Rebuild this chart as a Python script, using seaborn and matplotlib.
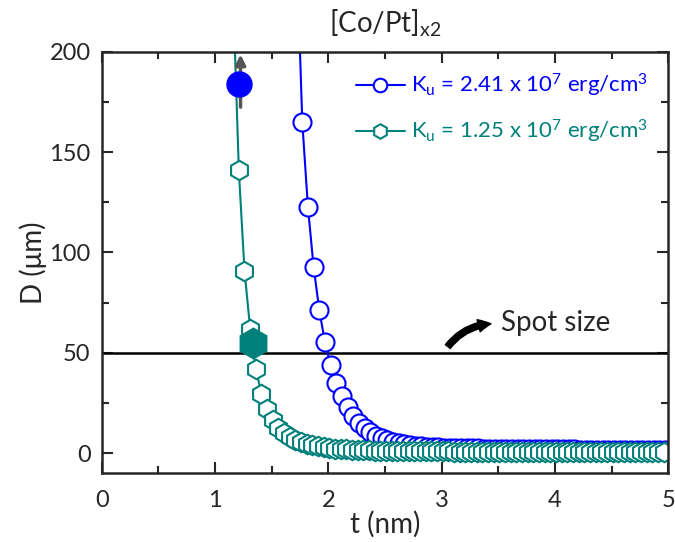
import numpy as np
import pandas as pd
import matplotlib
matplotlib.use('Agg')
import matplotlib.pyplot as plt
import seaborn as sns

# thickness grid (nm) and domain size D (um) for each anisotropy value
t_high = [1.72, 1.77, 1.82, 1.87, 1.92, 1.97, 2.02, 2.07, 2.12, 2.17, 2.22, 2.27, 2.32,
          2.37, 2.42, 2.47, 2.52, 2.57, 2.62, 2.67, 2.72, 2.77, 2.82, 2.87, 2.92, 2.97,
          3.02, 3.07, 3.12, 3.17, 3.22, 3.27, 3.32, 3.37, 3.42, 3.47, 3.52, 3.57, 3.62,
          3.67, 3.72, 3.77, 3.82, 3.87, 3.92, 3.97, 4.02, 4.07, 4.12, 4.17, 4.22, 4.27,
          4.32, 4.37, 4.42, 4.47, 4.52, 4.57, 4.62, 4.67, 4.72, 4.77, 4.82, 4.87, 4.92, 4.97]
D_high = [252, 165, 122.6, 92.7, 71.4, 55.3, 43.7, 34.9, 28.3, 22.9, 18.5, 15.2, 12.5,
          10.4, 8.8, 7.5, 6.5, 5.7, 5.0, 4.5, 4.1, 3.8, 3.5, 3.3, 3.1, 2.9,
          2.8, 2.7, 2.6, 2.5, 2.5, 2.4, 2.4, 2.3, 2.3, 2.2, 2.2, 2.2, 2.1,
          2.1, 2.1, 2.0, 2.0, 2.0, 2.0, 1.9, 1.9, 1.9, 1.9, 1.9, 1.8, 1.8,
          1.8, 1.8, 1.8, 1.8, 1.7, 1.7, 1.7, 1.7, 1.7, 1.7, 1.7, 1.6, 1.6, 1.6]

t_low = [1.16, 1.21, 1.26, 1.31, 1.36, 1.41, 1.46, 1.51, 1.56, 1.61, 1.66, 1.71, 1.76,
         1.81, 1.86, 1.91, 1.96, 2.01, 2.06, 2.11, 2.16, 2.21, 2.26, 2.31, 2.36, 2.41,
         2.46, 2.51, 2.56, 2.61, 2.66, 2.71, 2.76, 2.81, 2.86, 2.91, 2.96, 3.01, 3.06,
         3.11, 3.16, 3.21, 3.26, 3.31, 3.36, 3.41, 3.46, 3.51, 3.56, 3.61, 3.66, 3.71,
         3.76, 3.81, 3.86, 3.91, 3.96, 4.01, 4.06, 4.11, 4.16, 4.21, 4.26, 4.31, 4.36,
         4.41, 4.46, 4.51, 4.56, 4.61, 4.66, 4.71, 4.76, 4.81, 4.86, 4.91, 4.96]
D_low = [228, 141, 91, 62, 42, 29.6, 21.8, 16.5, 12.8, 10.2, 8.2, 6.8, 5.6,
         4.7, 4.0, 3.4, 3.0, 2.6, 2.3, 2.1, 1.9, 1.7, 1.6, 1.5, 1.4, 1.3,
         1.3, 1.2, 1.2, 1.1, 1.1, 1.0, 1.0, 1.0, 0.9, 0.9, 0.9, 0.9, 0.9,
         0.8, 0.8, 0.8, 0.8, 0.8, 0.8, 0.8, 0.8, 0.7, 0.7, 0.7, 0.7, 0.7,
         0.7, 0.7, 0.7, 0.7, 0.7, 0.7, 0.7, 0.6, 0.6, 0.6, 0.6, 0.6, 0.6,
         0.6, 0.6, 0.6, 0.6, 0.6, 0.6, 0.6, 0.6, 0.6, 0.6, 0.6, 0.6]

labels = ['$\\mathregular{K_u}$ = 2.41 x 10$^7$ erg/cm$^3$',
          '$\\mathregular{K_u}$ = 1.25 x 10$^7$ erg/cm$^3$']
colors = ['#0000ff', '#00807a']

# highlighted points
mark_high = (1.215, 184)
mark_low = (1.338, 54.8)
spot_size = 50

sns.set_style('ticks')
plt.rcParams['font.family'] = ['Lato', 'DejaVu Sans']
plt.rcParams['mathtext.default'] = 'regular'

fig = plt.figure(figsize=(6.75, 5.42), dpi=100)
ax = fig.add_axes([0.1507, 0.1268, 0.8393, 0.7778])

df_high = pd.DataFrame({'t': t_high, 'D': D_high})
df_low = pd.DataFrame({'t': t_low, 'D': D_low})

sns.lineplot(data=df_high, x='t', y='D', ax=ax, color=colors[0], lw=1.5,
             marker='o', markersize=13, markerfacecolor='white',
             markeredgecolor=colors[0], markeredgewidth=1.5, label=labels[0])
sns.lineplot(data=df_low, x='t', y='D', ax=ax, color=colors[1], lw=1.5,
             marker='h', markersize=14, markerfacecolor='white',
             markeredgecolor=colors[1], markeredgewidth=1.5, label=labels[1])

ax.axhline(spot_size, color='black', lw=1.8, zorder=1)

# arrow + filled markers
ax.annotate('', xy=(mark_high[0] + 0.01, 200), xytext=(mark_high[0] + 0.01, 171),
            arrowprops=dict(arrowstyle='-|>,head_width=0.3,head_length=0.6',
                            color='#555555', lw=2.5), zorder=4)
ax.plot(*mark_high, 'o', color=colors[0], markersize=18, zorder=5)
ax.plot(*mark_low, 'h', color=colors[1], markersize=22, zorder=5)

ax.annotate('', xy=(3.46, 64.5), xytext=(3.04, 52),
            arrowprops=dict(arrowstyle='simple,head_width=0.9,head_length=0.9,tail_width=0.45',
                            color='black', connectionstyle='arc3,rad=-0.25'))
ax.text(3.52, 65, 'Spot size', fontsize=20, va='center', ha='left')

ax.set_xlim(0, 5)
ax.set_ylim(-10, 200)
ax.set_xticks([0, 1, 2, 3, 4, 5])
ax.set_xticks([0.5, 1.5, 2.5, 3.5, 4.5], minor=True)
ax.set_yticks([0, 50, 100, 150, 200])
ax.set_yticks([25, 75, 125, 175], minor=True)
ax.tick_params(which='both', direction='in', top=True, right=True, labelsize=17,
               width=1.5)
ax.tick_params(which='major', length=8, pad=8)
ax.tick_params(axis='x', which='major', pad=12)
ax.tick_params(which='minor', length=5)
for s in ax.spines.values():
    s.set_linewidth(1.8)

ax.set_xlabel('t (nm)', fontsize=20, labelpad=0)
ax.set_ylabel('D (\u03bcm)', fontsize=20, labelpad=2)
ax.set_title('[Co/Pt]$_{x2}$', fontsize=20, pad=14)

leg = ax.legend(loc='upper right', bbox_to_anchor=(1.0, 1.0), frameon=False,
                fontsize=16, handlelength=2.2, handletextpad=0.3, markerscale=0.75,
                labelspacing=0.85, labelcolor='linecolor')

plt.savefig('out.png', dpi=100)
